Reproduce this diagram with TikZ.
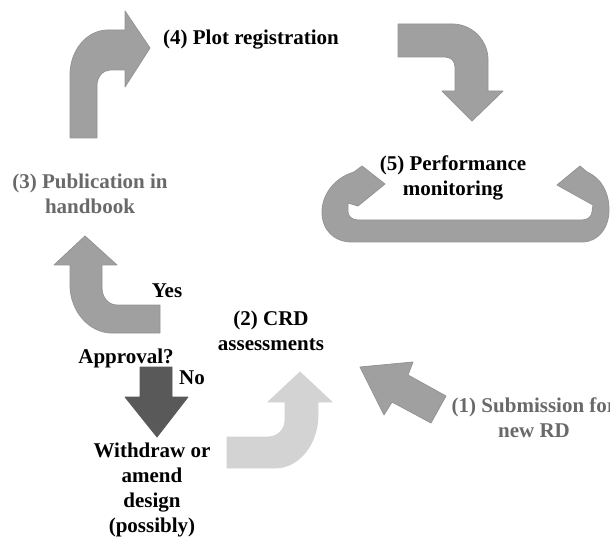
\documentclass[tikz,border=0pt]{standalone}
\usepackage{fontspec}
\setmainfont{Liberation Serif}
\usetikzlibrary{arrows}

\definecolor{midgray}{RGB}{160,160,160}
\definecolor{edgegray}{RGB}{148,148,148}
\definecolor{darkgray}{RGB}{89,89,89}
\definecolor{lightgray}{RGB}{211,211,211}
\definecolor{textgray}{RGB}{105,105,105}

\begin{document}
\begin{tikzpicture}[x=0.75pt,y=-0.75pt,
    blockarrow/.style={fill=midgray,draw=edgegray,line width=0.6pt,line join=round},
    label/.style={font=\fontsize{15.75}{18.75}\selectfont\bfseries,align=center,inner sep=0pt}]
  \useasboundingbox (0,0) rectangle (610,538);
  \node[label] (plotreg) at (251,40) {(4) Plot registration};
  \node[label] (perfmon) at (453,178) {(5) Performance\\monitoring};
  \node[label,textgray] (publication) at (90,194) {(3) Publication in\\handbook};
  \node[label] (yes) at (167,291) {Yes};
  \node[label] (approval) at (126,358) {Approval?};
  \node[label] (no) at (192,378) {No};
  \node[label] (withdraw) at (152,490) {Withdraw or\\amend\\design\\(possibly)};
  \node[label] (crd) at (271,331) {(2) CRD\\assessments};
  \node[label,textgray] (submission) at (534,418) {(1) Submission for\\new RD};
  \draw[blockarrow] (70,138) -- (70,75) .. controls (70,50) and (87,30) .. (108,30)
    -- (125,30) -- (125,11) -- (150,48) -- (125,87) -- (125,70) -- (110,70)
    .. controls (103,70) and (97,77) .. (97,85) -- (97,138) -- cycle;
  \draw[blockarrow] (398,24) -- (452,24) .. controls (472,24) and (488,40) .. (488,60)
    -- (488,91) -- (503,91) -- (472,121) -- (442,91) -- (455,91) -- (455,67)
    .. controls (455,61) and (451,57) .. (445,57) -- (398,57) -- cycle;
  \draw[blockarrow] (385,184) -- (358,206) -- (348,203) -- (348,212)
    .. controls (348,216) and (352,220) .. (358,220) -- (582,220)
    .. controls (588,220) and (592,216) .. (592,212) -- (593,205) -- (557,185) -- (580,166)
    -- (587,172) .. controls (601,178) and (609,192) .. (609,210)
    .. controls (609,228) and (598,242) .. (582,242) -- (352,242)
    .. controls (334,242) and (322,230) .. (322,212)
    .. controls (322,195) and (334,178) .. (354,172) -- (362,166) -- cycle;
  \draw[blockarrow] (85,236) -- (117,265) -- (102,265) -- (102,288)
    .. controls (102,297) and (108,305) .. (117,305) -- (160,305) -- (160,333) -- (112,333)
    .. controls (89,333) and (70,311) .. (70,285) -- (70,265) -- (54,265) -- cycle;
  \draw[blockarrow,fill=darkgray,draw=darkgray] (140,367) -- (172,367) -- (172,397) -- (188,397)
    -- (157,437) -- (125,397) -- (140,397) -- cycle;
  \draw[blockarrow,fill=lightgray,draw=lightgray] (227,437) -- (268,437)
    .. controls (277,437) and (285,430) .. (285,420) -- (285,402) -- (268,402) -- (300,372)
    -- (332,402) -- (318,402) -- (318,415) .. controls (318,444) and (299,468) .. (275,468)
    -- (227,468) -- cycle;
  \draw[blockarrow] (360,367) -- (413,362) -- (408,375) -- (446,396) -- (431,423)
    -- (392,402) -- (384,415) -- cycle;
\end{tikzpicture}
\end{document}
